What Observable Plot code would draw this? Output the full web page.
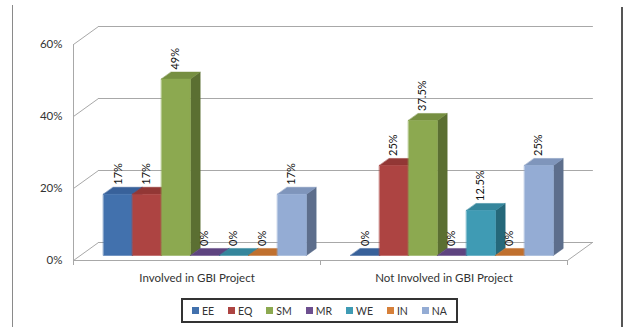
<!DOCTYPE html>
<html>
<head>
<meta charset="utf-8">
<script src="https://cdn.jsdelivr.net/npm/d3@7"></script>
<script src="https://cdn.jsdelivr.net/npm/@observablehq/plot@0.6"></script>
<style>
  html, body { margin: 0; padding: 0; background: #fff; }
  #wrap { position: relative; width: 625px; height: 327px; overflow: hidden; font-family: Lato, "Open Sans", sans-serif; }
  #frameL { position: absolute; left: 12px; top: 5px; width: 1px; height: 330px; background: #8a8a8a; }
  #frameR { position: absolute; left: 621px; top: 7px; width: 2px; height: 330px; background: #555; }
  #legend { margin: 2px 0 0 181px; width: 269px; height: 21px; border: 2px solid #333; display: flex; align-items: center; justify-content: space-around; padding: 0 2px; box-sizing: content-box; font-size: 10.5px; color: #333; }
  #legend span.item { display: inline-flex; align-items: center; gap: 3px; }
  #legend span.sw { display: inline-block; width: 7px; height: 7px; }
  svg { display: block; }
</style>
</head>
<body>
<div id="wrap">
  <div id="chart"></div>
  <div id="legend"></div>
  <div id="frameL"></div>
  <div id="frameR"></div>
</div>
<script>
// ---- data ----
const groups = ["Involved in GBI Project", "Not Involved in GBI Project"];
const seriesNames = ["EE", "EQ", "SM", "MR", "WE", "IN", "NA"];
const involvedValues = [17, 17, 49, 0, 0, 0, 17];
const notInvolvedValues = [0, 25, 37.5, 0, 12.5, 0, 25];
const involvedLabels = ["17%", "17%", "49%", "0%", "0%", "0%", "17%"];
const notInvolvedLabels = ["0%", "25%", "37.5%", "0%", "12.5%", "0%", "25%"];
const yTicks = [0, 20, 40, 60];

// ---- styles ----
const frontColors = ["#4271ad", "#ad4442", "#8ca950", "#6d4f8f", "#3f9bb4", "#d6803a", "#94acd4"];
const topColors   = ["#38619a", "#923735", "#768f41", "#5e4480", "#35869c", "#c0702e", "#7f95bb"];
const sideColors  = ["#2f5280", "#7a2d2b", "#5b6f32", "#4b3563", "#25687a", "#9c5a24", "#5d6e8c"];

// oblique projection: depth d in [0,1] shifts x and y in data units
const DX = 0.1012, DY = 5;
const D0 = 0.28, D1 = 0.67;
const PAD = 0.093, BW = 0.1174;
const P = (x, y, d) => ({x: x + DX * d, y: y + DY * d});

const valuesByGroup = [involvedValues, notInvolvedValues];
const labelsByGroup = [involvedLabels, notInvolvedLabels];

// faces
const faces = [];
let fid = 0;
valuesByGroup.forEach((vals, g) => {
  vals.forEach((v, k) => {
    const x1 = g + PAD + k * BW, x2 = x1 + BW;
    const add = (pts, color) => { fid++; pts.forEach(p => faces.push({...p, id: fid, color})); };
    add([P(x2, 0, D0), P(x2, 0, D1), P(x2, v, D1), P(x2, v, D0)], sideColors[k]);
    add([P(x1, v, D0), P(x2, v, D0), P(x2, v, D1), P(x1, v, D1)], topColors[k]);
    if (v > 0) add([P(x1, 0, D0), P(x2, 0, D0), P(x2, v, D0), P(x1, v, D0)], frontColors[k]);
  });
});

// labels
const labels = [];
valuesByGroup.forEach((vals, g) => {
  vals.forEach((v, k) => {
    const x1 = g + PAD + k * BW;
    labels.push({x: x1 + BW / 2 + DX * D0, y: v + DY * D1, text: labelsByGroup[g][k]});
  });
});

// wall / floor lines
const wall = [];
let wid = 0;
const seg = (a, b) => { wid++; wall.push({...a, id: wid}, {...b, id: wid}); };
yTicks.forEach(v => {
  seg(P(0, v, 1), P(groups.length, v, 1));   // back wall gridlines
  seg(P(0, v, 0), P(0, v, 1));               // left wall diagonals
});
seg(P(0, 0, 0), P(0, 60, 0));                 // left wall front edge
seg(P(0, 0, 0), P(groups.length, 0, 0));      // floor front edge
seg(P(groups.length, 0, 0), P(groups.length, 0, 1)); // floor right edge

const chart = Plot.plot({
  width: 625,
  height: 296,
  marginLeft: 73,
  marginRight: 58,
  marginTop: 44,
  marginBottom: 36,
  style: {fontFamily: "Lato, 'Open Sans', sans-serif", fontSize: "11.5px", background: "transparent"},
  x: {type: "linear", domain: [0, groups.length], label: null},
  y: {domain: [0, 60], label: null},
  color: {type: "identity"},
  marks: [
    Plot.line(wall, {x: "x", y: "y", z: "id", stroke: "#a8a8a8", strokeWidth: 1}),
    Plot.axisY({ticks: yTicks, tickSize: 0, tickPadding: 11, tickFormat: d => d + "%", fill: "#333", fontSize: "11.5px", label: null}),
    Plot.axisX({ticks: [0, 1, 2], tickSize: 5, tickFormat: () => "", stroke: "#a8a8a8", label: null}),
    Plot.axisX({ticks: groups.map((_, i) => i + 0.5), tickSize: 0, tickPadding: 13, tickFormat: d => groups[Math.floor(d)], fill: "#333", fontSize: "11.5px", label: null}),
    Plot.line(faces, {x: "x", y: "y", z: "id", fill: "color", stroke: "color", strokeWidth: 0.5, curve: "linear-closed"}),
    Plot.text(labels, {x: "x", y: "y", text: "text", rotate: -90, textAnchor: "start", dy: -2.5, fill: "#111", fontSize: "11px"})
  ]
});
document.getElementById("chart").appendChild(chart);

// legend
const legend = document.getElementById("legend");
seriesNames.forEach((name, k) => {
  const item = document.createElement("span");
  item.className = "item";
  const sw = document.createElement("span");
  sw.className = "sw";
  sw.style.background = frontColors[k];
  item.appendChild(sw);
  item.appendChild(document.createTextNode(name));
  legend.appendChild(item);
});
</script>
</body>
</html>
